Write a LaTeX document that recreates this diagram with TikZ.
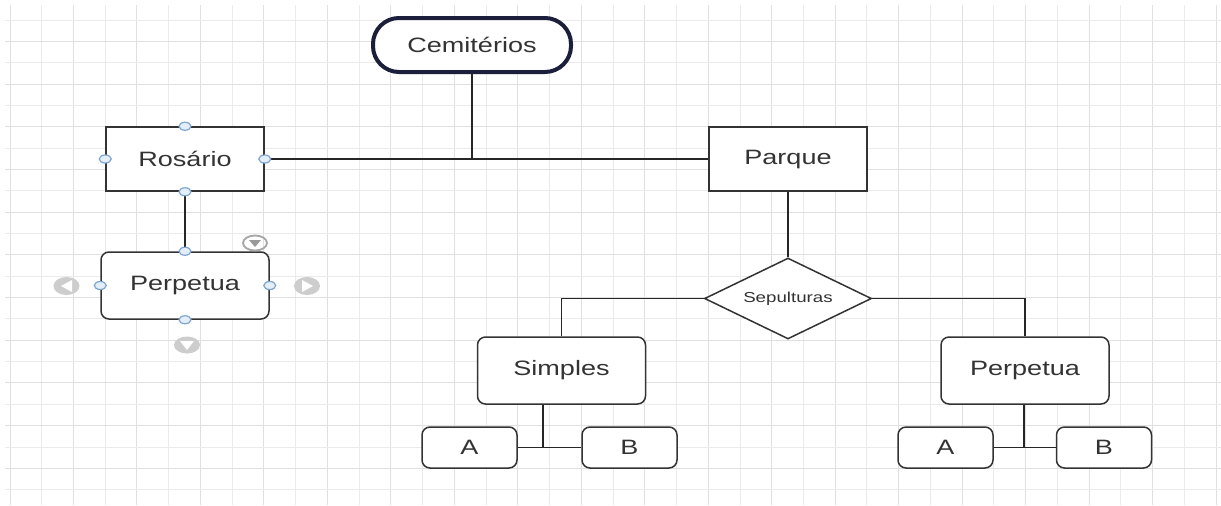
\documentclass[tikz,border=0pt]{standalone}
\usepackage{fontspec}
\newfontfamily\diagfont[FakeStretch=1.3]{Liberation Sans}
\usetikzlibrary{shapes.geometric}
\definecolor{navy}{HTML}{1B1F3B}
\definecolor{ink}{HTML}{333333}
\definecolor{portfill}{HTML}{E3EEF9}
\definecolor{portline}{HTML}{7FA6D0}
\definecolor{gridminor}{HTML}{EBEBEB}
\definecolor{gridmajor}{HTML}{E0E0E0}
\definecolor{hover}{HTML}{CDCDCD}
\begin{document}
\begin{tikzpicture}[x=0.5pt, y=-0.5pt,
	box/.style={draw=ink, line width=0.75pt, fill=white, text=ink, inner sep=0pt, font=\diagfont\fontsize{10.4}{12}\selectfont},
	entity/.style={box, rectangle, minimum width=79pt, minimum height=32pt},
	roundbox/.style={box, rounded corners=4pt, minimum width=84pt, minimum height=33.5pt},
	leaf/.style={box, rounded corners=4pt, minimum width=47.5pt, minimum height=20.5pt},
	root/.style={box, draw=navy, line width=2pt, rounded corners=13pt, minimum width=99pt, minimum height=27pt},
	choice/.style={box, diamond, aspect=2, minimum width=83.5pt, minimum height=40.5pt, font=\diagfont\fontsize{7.2}{9}\selectfont},
	link/.style={draw=black!85, line width=0.8pt},
	port/.style={draw=portline, fill=portfill, line width=0.6pt},
	hoverbtn/.style={fill=hover}]
	\useasboundingbox (0,0) rectangle (1221,505);
	\fill[white] (0,0) rectangle (1221,505);
	\foreach \k in {1,3,...,37} \draw[gridminor, line width=0.5pt] ({10+31.74*\k},5) -- ({10+31.74*\k},505);
	\foreach \k in {0,2,...,38} \draw[gridmajor, line width=0.5pt] ({10+31.74*\k},5) -- ({10+31.74*\k},505);
	\foreach \k in {0,2,...,22} \draw[gridminor, line width=0.5pt] (5,{20+21.35*\k}) -- (1221,{20+21.35*\k});
	\foreach \k in {1,3,...,21} \draw[gridmajor, line width=0.5pt] (5,{20+21.35*\k}) -- (1221,{20+21.35*\k});

	\node[root] (cem) at (472,45) {Cemitérios};
	\node[entity] (ros) at (185,159) {Rosário};
	\node[roundbox] (perA) at (185,285.5) {Perpetua};
	\node[entity] (par) at (788,159) {Parque};
	\node[choice] (sep) at (788,298.5) {Sepulturas};
	\node[roundbox] (sim) at (561.5,370.5) {Simples};
	\node[roundbox] (perB) at (1025,370.5) {Perpetua};
	\node[leaf] (simA) at (469.5,447.5) {A};
	\node[leaf] (simB) at (629.5,447.5) {B};
	\node[leaf] (perBA) at (945.5,447.5) {A};
	\node[leaf] (perBB) at (1104,447.5) {B};
	\coordinate (simJ) at (543,447.5);
	\coordinate (perJ) at (1024,447.5);

	\draw[link] (ros.east) -- (par.west);
	\draw[link] (cem.south) -- (cem.south |- ros.east);
	\draw[link] (ros.south) -- (perA.north);
	\draw[link] (par.south) -- (sep.north);
	\draw[link] (sep.west) -| (sim.north);
	\draw[link] (sep.east) -| (perB.north);
	\draw[link] (simJ |- sim.south) -- (simJ);
	\draw[link] (simA.east) -- (simB.west);
	\draw[link] (perJ |- perB.south) -- (perJ);
	\draw[link] (perBA.east) -- (perBB.west);

	\foreach \p in {north,south,east,west} {
		\draw[port] (ros.\p) ellipse [x radius=3pt, y radius=2pt];
		\draw[port] (perA.\p) ellipse [x radius=3pt, y radius=2pt];
	}

	\fill[hoverbtn] (66.5,286) ellipse [x radius=6.5pt, y radius=4.5pt];
	\fill[white] (61,286) -- (72,280) -- (72,292) -- cycle;
	\fill[hoverbtn] (307,286) ellipse [x radius=6.5pt, y radius=4.5pt];
	\fill[white] (313,286) -- (302,280) -- (302,292) -- cycle;
	\fill[hoverbtn] (187,345) ellipse [x radius=6.5pt, y radius=4.25pt];
	\fill[white] (180,341) -- (194,341) -- (187,350) -- cycle;
	\draw[gray!70, line width=0.9pt] (255,243) ellipse [x radius=6pt, y radius=3.75pt];
	\fill[gray!80] (249,240) -- (261,240) -- (255,247) -- cycle;
\end{tikzpicture}
\end{document}
